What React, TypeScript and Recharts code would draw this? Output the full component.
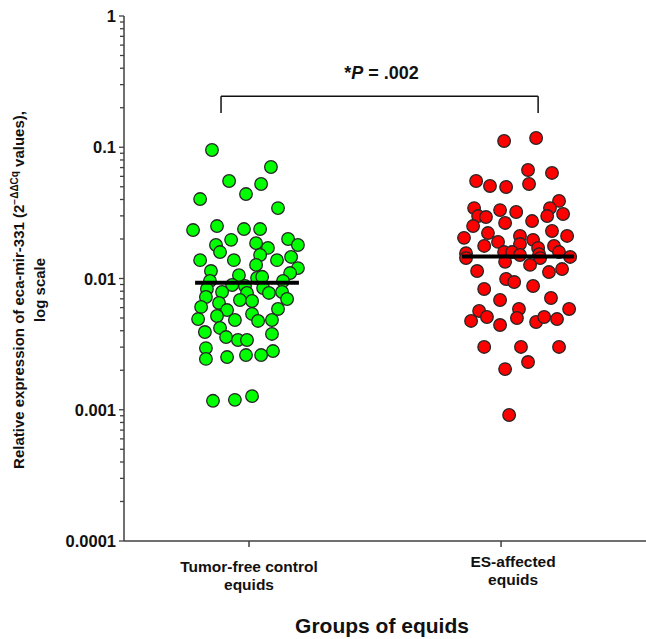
import {
  ScatterChart,
  Scatter,
  XAxis,
  YAxis,
  ReferenceLine,
} from "recharts";

const groupPositions = [1, 2];
const groupLabels = [
  ["Tumor-free control", "equids"],
  ["ES-affected", "equids"],
];
const majorTicks = [0.0001, 0.001, 0.01, 0.1, 1];
const minorSteps = [2, 3, 4, 5, 6, 7, 8, 9];

// tumor-free control equids: horizontal jitter (in group widths) and values
const controlJitter = [
  -0.147, 0.087, -0.079, 0.048, -0.012, -0.194, 0.115, -0.222, -0.127, -0.02,
  0.044, -0.071, 0.155, 0.028, -0.131, 0.194, 0.075, -0.115, 0.044, -0.194,
  -0.06, 0.111, 0.167, 0.028, -0.151, 0.194, 0.163, -0.04, 0.032, 0.052,
  0.135, -0.155, -0.067, -0.016, -0.167, 0.056, -0.107, -0.008, 0.079, 0.131,
  -0.171, -0.036, 0.012, 0.151, -0.119, -0.19, -0.087, 0.115, 0.012, -0.127,
  -0.202, -0.056, 0.036, 0.091, -0.115, -0.175, 0.091, -0.091, -0.044, -0.008,
  -0.171, 0.095, -0.171, -0.087, -0.012, 0.048, -0.143, -0.056, 0.012,
];
const controlValues = [
  0.0953, 0.0707, 0.0553, 0.0525, 0.044, 0.0403, 0.0344, 0.0234, 0.0251, 0.0238,
  0.0238, 0.0197, 0.02, 0.0186, 0.018, 0.018, 0.0171, 0.0159, 0.0151, 0.0138,
  0.0138, 0.0138, 0.0146, 0.0127, 0.0114, 0.012, 0.011, 0.0106, 0.0101, 0.0103,
  0.00957, 0.00957, 0.00892, 0.00877, 0.00832, 0.00847, 0.00789, 0.00776, 0.00776, 0.00789,
  0.00723, 0.00686, 0.00674, 0.00698, 0.00651, 0.00607, 0.00575, 0.00586, 0.00537, 0.00518,
  0.00491, 0.00483, 0.00475, 0.00483, 0.0042, 0.00391, 0.00378, 0.00358, 0.0034, 0.0034,
  0.00295, 0.0028, 0.00244, 0.00252, 0.00261, 0.00261, 0.00117, 0.00119, 0.00127,
];

// ES-affected equids
const esJitter = [
  0.012, 0.139, 0.107, 0.202, -0.099, -0.044, 0.02, 0.111, 0.23, -0.107,
  0.194, -0.004, 0.06, -0.091, -0.06, 0.183, 0.246, -0.111, 0.016, 0.123,
  -0.147, -0.052, 0.202, 0.262, 0.075, -0.067, -0.012, 0.075, 0.127, 0.147,
  0.21, -0.139, -0.139, 0.012, 0.044, 0.075, 0.151, 0.155, 0.23, 0.274,
  0.016, 0.115, -0.095, 0.19, 0.242, 0.02, 0.052, 0.127, -0.067, -0.004,
  0.198, -0.087, -0.119, -0.056, 0.071, 0.063, -0.004, 0.139, 0.171, 0.222,
  0.27, -0.067, 0.079, 0.23, 0.107, 0.016, 0.032,
];
const esValues = [
  0.1116, 0.1176, 0.0671, 0.0637, 0.0553, 0.0507, 0.0498, 0.0525, 0.039, 0.0344,
  0.0344, 0.0332, 0.0321, 0.0299, 0.0294, 0.0299, 0.031, 0.0251, 0.0265, 0.0274,
  0.0204, 0.0222, 0.023, 0.0211, 0.0211, 0.0177, 0.019, 0.0183, 0.0197, 0.0171,
  0.0177, 0.0156, 0.0143, 0.0159, 0.0159, 0.0151, 0.0153, 0.0143, 0.0159, 0.0146,
  0.0134, 0.0127, 0.0114, 0.0112, 0.0118, 0.00991, 0.0094, 0.00877, 0.00832, 0.00686,
  0.0071, 0.00566, 0.00475, 0.00509, 0.00586, 0.005, 0.00442, 0.00466, 0.00509, 0.00491,
  0.00586, 0.00301, 0.00301, 0.00301, 0.00231, 0.00204, 0.000912,
];

const medianValues = [0.0093, 0.0147];
const medianSpans = [
  [0.786, 1.198],
  [1.845, 2.29],
];
const pLabel = ".002";
const bracketSpan = [0.889, 2.147];
const bracketLevels = [0.245, 0.182];

const controlData = controlValues.map((v, i) => ({
  x: groupPositions[0] + controlJitter[i],
  y: v,
}));
const esData = esValues.map((v, i) => ({
  x: groupPositions[1] + esJitter[i],
  y: v,
}));
const medianData = medianValues.map((m, i) => [
  { x: medianSpans[i][0], y: m },
  { x: medianSpans[i][1], y: m },
]);

const yTicks: number[] = [];
majorTicks.forEach((t, i) => {
  yTicks.push(t);
  if (i < majorTicks.length - 1) minorSteps.forEach((m) => yTicks.push(t * m));
});

const FONT = '"Liberation Sans", Arial, sans-serif';
const AXIS = "#404040";

const dot = (fill: string) => (props: any) =>
  (
    <circle
      cx={props.cx}
      cy={props.cy}
      r={6.3}
      fill={fill}
      stroke="#262626"
      strokeWidth={1.3}
    />
  );

const noDot = () => <g />;

function LogTick({ x, y, payload }: any) {
  const major = majorTicks.includes(payload.value);
  return (
    <g>
      <line x1={x - (major ? 5 : 4)} x2={x} y1={y} y2={y} stroke={AXIS} strokeWidth={1.3} />
      {major && (
        <text
          x={x - 8}
          y={y + 6}
          textAnchor="end"
          fontFamily={FONT}
          fontWeight="bold"
          fontSize={16.5}
          fill="#111"
        >
          {String(payload.value)}
        </text>
      )}
    </g>
  );
}

function GroupTick({ x, y, index }: any) {
  const lines = groupLabels[index] || [];
  const dx = index === 1 ? 12 : 0;
  const dy = index === 1 ? -5 : 0;
  return (
    <text
      textAnchor="middle"
      fontFamily={FONT}
      fontWeight="bold"
      fontSize={15.5}
      fill="#111"
    >
      <tspan x={x + dx} y={y + 23 + dy}>
        {lines[0]}
      </tspan>
      <tspan x={x + dx} y={y + 41 + dy}>
        {lines[1]}
      </tspan>
    </text>
  );
}

function XTitle({ viewBox }: any) {
  const cx = viewBox.x + viewBox.width / 2 - 3;
  return (
    <text
      x={cx}
      y={viewBox.y + 92}
      textAnchor="middle"
      fontFamily={FONT}
      fontWeight="bold"
      fontSize={21}
      fill="#111"
    >
      Groups of equids
    </text>
  );
}

function YTitle() {
  const cy = 290;
  return (
    <g fontFamily={FONT} fontWeight="bold" fontSize={15} fill="#111">
      <text x={24} y={cy} textAnchor="middle" transform={`rotate(-90, 24, ${cy})`}>
        <tspan>Relative expression of eca-mir-331 (2</tspan>
        <tspan fontSize={10} dy={-6}>
          −ΔΔCq
        </tspan>
        <tspan dy={6}> values),</tspan>
      </text>
      <text x={45} y={cy} textAnchor="middle" transform={`rotate(-90, 45, ${cy})`}>
        log scale
      </text>
    </g>
  );
}

function PText({ viewBox }: any) {
  const cx = viewBox.x + viewBox.width / 2 + 2;
  return (
    <text
      x={cx}
      y={viewBox.y - 17}
      textAnchor="middle"
      fontFamily={FONT}
      fontWeight="bold"
      fontSize={18}
      fill="#111"
    >
      *<tspan fontStyle="italic">P</tspan> = {pLabel}
    </text>
  );
}

export default function App() {
  return (
    <div
      style={{
        position: "absolute",
        left: 0,
        top: 0,
        width: 646,
        height: 639,
        background: "#fff",
      }}
    >
      <ScatterChart
        width={646}
        height={639}
        margin={{ top: 16, right: 0, bottom: 0, left: 0 }}
      >
        <XAxis
          type="number"
          dataKey="x"
          domain={[0.504, 2.575]}
          allowDataOverflow
          ticks={groupPositions}
          interval={0}
          height={98}
          tickSize={6}
          tickMargin={2}
          axisLine={{ stroke: AXIS, strokeWidth: 1.5 }}
          tickLine={{ stroke: AXIS, strokeWidth: 1.5 }}
          tick={GroupTick}
          label={XTitle}
        />
        <YAxis
          type="number"
          dataKey="y"
          scale="log"
          domain={[0.0001, 1]}
          allowDataOverflow
          ticks={yTicks}
          interval={0}
          width={124}
          tickSize={0}
          tickMargin={0}
          axisLine={{ stroke: AXIS, strokeWidth: 1.5 }}
          tickLine={false}
          tick={LogTick}
          label={YTitle}
        />
        <Scatter
          data={controlData}
          shape={dot("#00ff00")}
          isAnimationActive={false}
        />
        <Scatter data={esData} shape={dot("#ff0000")} isAnimationActive={false} />
        {medianData.map((seg, i) => (
          <Scatter
            key={"m" + i}
            data={seg}
            shape={noDot}
            line={{ stroke: "#000", strokeWidth: 4 }}
            isAnimationActive={false}
          />
        ))}
        <ReferenceLine
          segment={[
            { x: bracketSpan[0], y: bracketLevels[0] },
            { x: bracketSpan[1], y: bracketLevels[0] },
          ]}
          stroke="#111"
          strokeWidth={1.5}
          ifOverflow="visible"
          label={PText}
        />
        {bracketSpan.map((bx, i) => (
          <ReferenceLine
            key={"b" + i}
            segment={[
              { x: bx, y: bracketLevels[0] },
              { x: bx, y: bracketLevels[1] },
            ]}
            stroke="#111"
            strokeWidth={1.5}
            ifOverflow="visible"
          />
        ))}
      </ScatterChart>
    </div>
  );
}
